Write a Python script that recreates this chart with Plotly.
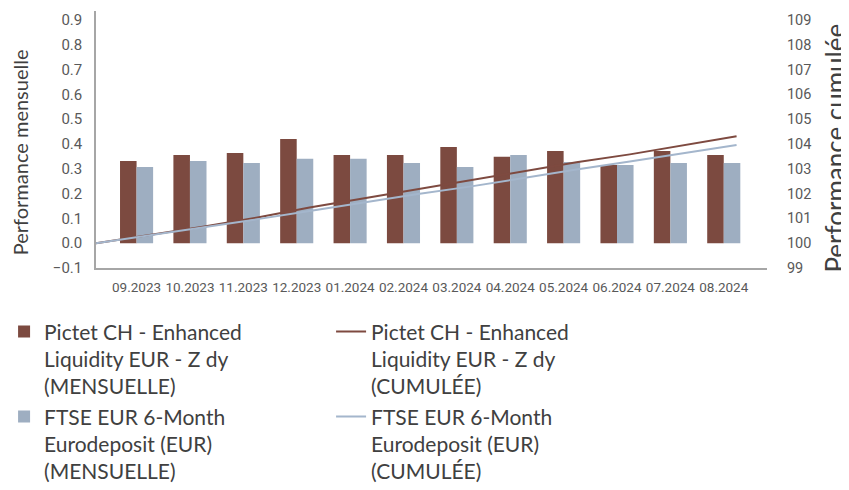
import plotly.graph_objects as go

# ---- data ----
months = ["09.2023", "10.2023", "11.2023", "12.2023", "01.2024", "02.2024",
          "03.2024", "04.2024", "05.2024", "06.2024", "07.2024", "08.2024"]
fund_monthly = [0.331, 0.356, 0.364, 0.420, 0.356, 0.356,
                0.388, 0.348, 0.372, 0.315, 0.372, 0.356]
bench_monthly = [0.307, 0.331, 0.323, 0.340, 0.340, 0.323,
                 0.307, 0.356, 0.327, 0.315, 0.323, 0.323]
# cumulative values at each month end (start = 100)
fund_cum = [100.00, 100.33, 100.66, 101.03, 101.44, 101.80, 102.16,
            102.54, 102.89, 103.26, 103.58, 103.95, 104.31]
bench_cum = [100.00, 100.31, 100.64, 100.96, 101.30, 101.64, 101.97,
             102.28, 102.64, 102.97, 103.29, 103.62, 103.96]
left_ticks = [-0.1, 0.0, 0.1, 0.2, 0.3, 0.4, 0.5, 0.6, 0.7, 0.8, 0.9]
right_ticks = [99, 100, 101, 102, 103, 104, 105, 106, 107, 108, 109]

names = [
    "Pictet CH - Enhanced<br>Liquidity EUR - Z dy<br>(MENSUELLE)",
    "Pictet CH - Enhanced<br>Liquidity EUR - Z dy<br>(CUMULÉE)",
    "FTSE EUR 6-Month<br>Eurodeposit (EUR)<br>(MENSUELLE)",
    "FTSE EUR 6-Month<br>Eurodeposit (EUR)<br>(CUMULÉE)",
]

# ---- styling ----
BROWN = "#7C4A40"
BLUE = "#9EAEC1"
BROWN_LINE = "#7E4A40"
BLUE_LINE = "#A4B6CC"
AXIS = "#A6A6A6"
TICK_FAMILY = "Liberation Sans Narrow, Roboto, sans-serif"
TEXT_FONT = "Lato, Open Sans, sans-serif"

bar_pos = [i + 0.76 for i in range(len(months))]
line_pos = list(range(len(fund_cum)))

fig = go.Figure()
fig.add_trace(go.Bar(x=bar_pos, y=fund_monthly, width=0.31, offset=-0.31,
                     marker=dict(color=BROWN, line=dict(width=0)), name=names[0]))
fig.add_trace(go.Scatter(x=line_pos, y=fund_cum, yaxis="y2", mode="lines",
                         line=dict(color=BROWN_LINE, width=2), name=names[1]))
fig.add_trace(go.Bar(x=bar_pos, y=bench_monthly, width=0.31, offset=0,
                     marker=dict(color=BLUE, line=dict(width=0)), name=names[2]))
fig.add_trace(go.Scatter(x=line_pos, y=bench_cum, yaxis="y2", mode="lines",
                         line=dict(color=BLUE_LINE, width=2), name=names[3]))

# the page body has an 8px margin, so the figure is 8px smaller on each axis
fig.update_layout(
    width=841, height=482,
    margin=dict(l=88, r=82, t=3, b=222, autoexpand=False),
    paper_bgcolor="white", plot_bgcolor="white",
    barmode="overlay",
    xaxis=dict(range=[0, 12.57], tickvals=bar_pos, ticktext=months, tickangle=0,
               showline=True, linecolor=AXIS, linewidth=1.5,
               showgrid=False, zeroline=False, automargin=False,
               ticks="outside", ticklen=6, tickcolor="rgba(0,0,0,0)",
               tickfont=dict(family=TICK_FAMILY, size=13.5, color="#595959"),
               fixedrange=True),
    yaxis=dict(range=[-0.1, 0.936], tickvals=left_ticks, tickformat=".1f",
               showline=True, linecolor=AXIS, linewidth=1.5,
               showgrid=False, zeroline=False, automargin=False,
               ticks="outside", ticklen=9, tickcolor="rgba(0,0,0,0)",
               tickfont=dict(family=TICK_FAMILY, size=15, color="#595959")),
    yaxis2=dict(range=[99, 109.36], tickvals=right_ticks, overlaying="y",
                side="right", showline=False, showgrid=False, zeroline=False,
                automargin=False,
                ticks="outside", ticklen=16, tickcolor="rgba(0,0,0,0)",
                tickfont=dict(family=TICK_FAMILY, size=14.5, color="#595959")),
    legend=dict(orientation="h", x=-0.137, xanchor="left", y=-0.169, yanchor="top",
                valign="top", entrywidth=282, entrywidthmode="pixels",
                font=dict(family=TEXT_FONT, size=21, color="#404040"),
                traceorder="normal", bgcolor="rgba(0,0,0,0)"),
    showlegend=True,
    annotations=[
        dict(text="Performance mensuelle", textangle=-90, xref="paper", yref="paper",
             x=-0.113, y=0.451, xanchor="center", yanchor="middle", showarrow=False,
             font=dict(family=TEXT_FONT, size=20, color="#404040")),
        dict(text="Performance cumulée", textangle=-90, xref="paper", yref="paper",
             x=1.1015, y=0.465, xanchor="center", yanchor="middle", showarrow=False,
             font=dict(family=TEXT_FONT, size=26, color="#404040")),
    ],
)

fig.write_html("out.html")
